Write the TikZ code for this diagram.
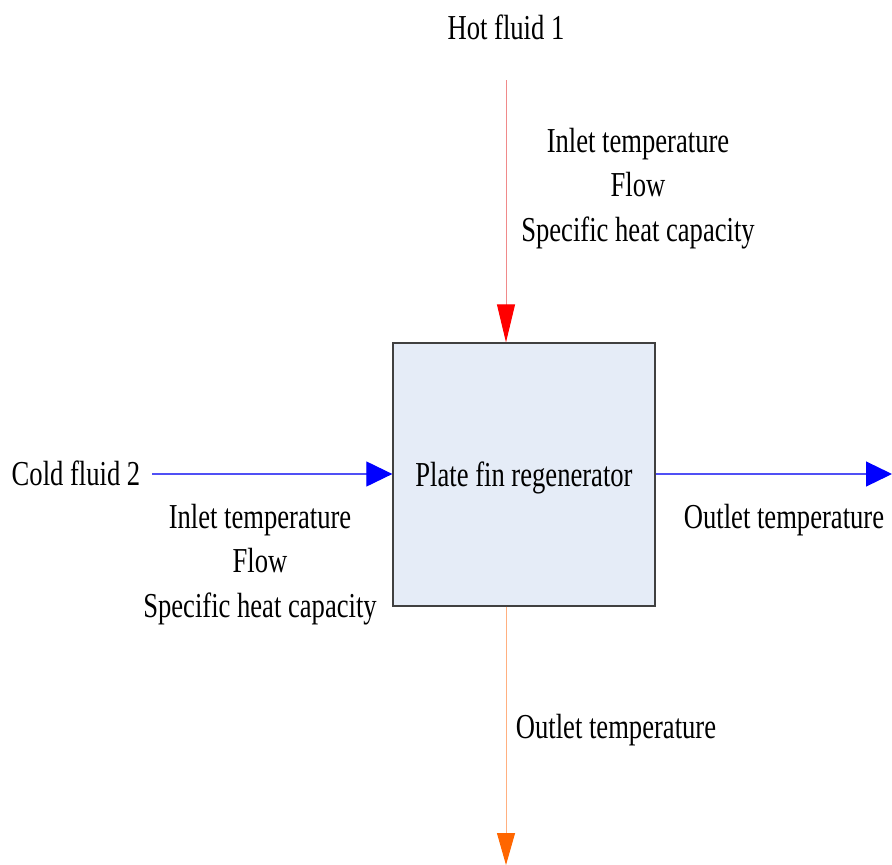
\documentclass[tikz,border=0pt]{standalone}
\usepackage{fontspec}
\setmainfont{Liberation Serif}[FakeStretch=0.76]
\usetikzlibrary{arrows.meta}
\definecolor{boxfill}{HTML}{E5ECF7}
\definecolor{boxline}{HTML}{404040}
\definecolor{hotline}{HTML}{F08A8A}
\definecolor{hothead}{HTML}{FF0000}
\definecolor{coldline}{HTML}{5050F5}
\definecolor{coldhead}{HTML}{0000FF}
\definecolor{outline}{HTML}{FFB080}
\definecolor{outhead}{HTML}{FF6600}
\tikzset{
  lbl/.style={font=\fontsize{35}{44.5}\selectfont, anchor=base, inner sep=0pt, align=center},
  regbox/.style={draw=boxline, fill=boxfill, line width=1.3pt, minimum width=262pt, minimum height=263pt, inner sep=0pt},
  hotflow/.style={draw=hotline, line width=1pt, -{Triangle[length=38pt, width=18pt, color=hothead]}},
  coldflow/.style={draw=coldline, line width=1.2pt, -{Triangle[length=26pt, width=25pt, color=coldhead]}},
  outflow/.style={draw=outline, line width=1pt, -{Triangle[length=32pt, width=18pt, color=outhead]}}
}
\begin{document}
\begin{tikzpicture}[x=1pt, y=-1pt]
  \useasboundingbox (0,0) rectangle (892,865);
  % regenerator block
  \node[regbox] (reg) at (524,474.5) {};
  \node[lbl] (regtxt) at (524,486) {Plate fin regenerator};
  % flow end points
  \coordinate (hotin) at (506,80);
  \coordinate (coldin) at (152,474);
  \coordinate (coldout) at (892,474);
  \coordinate (hotout) at (506,865);
  % streams
  \draw[hotflow] (hotin) -- (hotin |- reg.north);
  \draw[coldflow] (coldin) -- (coldin -| reg.west);
  \draw[coldflow] (coldin -| reg.east) -- (coldout);
  \draw[outflow] (hotin |- reg.south) -- (hotout);
  % labels (multi-line labels sit on the baseline of their last line)
  \node[lbl] (hotname) at (506,39) {Hot fluid 1};
  \node[lbl] (hotprops) at (638,241) {Inlet temperature\\Flow\\Specific heat capacity};
  \node[lbl] (coldname) at (76,485) {Cold fluid 2};
  \node[lbl] (coldprops) at (260,617) {Inlet temperature\\Flow\\Specific heat capacity};
  \node[lbl] (coldouttxt) at (784,528) {Outlet temperature};
  \node[lbl] (hotouttxt) at (616,738) {Outlet temperature};
\end{tikzpicture}
\end{document}
